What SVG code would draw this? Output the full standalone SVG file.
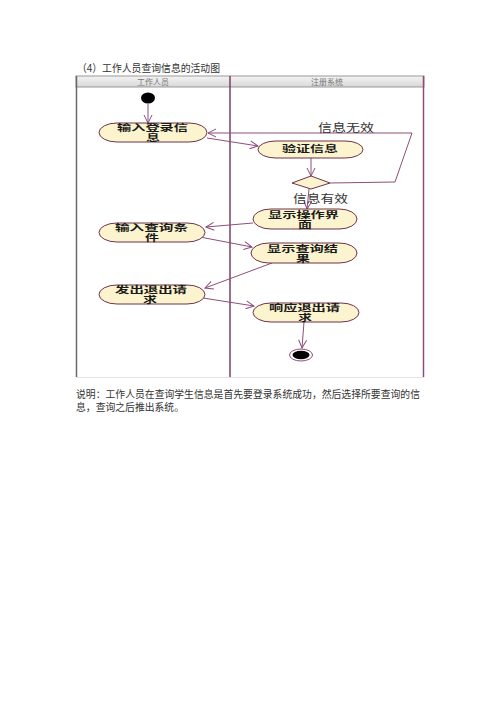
<svg xmlns="http://www.w3.org/2000/svg" width="500" height="706" viewBox="0 0 500 706">
<defs>
<style>
.t{font-family:"Liberation Sans","Noto Sans CJK SC",sans-serif;fill:#333}
.n{fill:#fbf4cf;stroke:#6e3348;stroke-width:1}
.nt{font-family:"Liberation Sans","Noto Sans CJK SC",sans-serif;font-size:9px;fill:#1a1a1a;font-weight:bold}
.c{fill:none;stroke:#8c4f7c;stroke-width:1}
.h{font-family:"Liberation Sans","Noto Sans CJK SC",sans-serif;font-size:8px;fill:#777}
</style>
<marker id="a" markerWidth="10" markerHeight="10" refX="9" refY="5" orient="auto" markerUnits="userSpaceOnUse">
<path d="M1,1 L9,5 L1,9" fill="none" stroke="#8c4f7c" stroke-width="1"/>
</marker>
<linearGradient id="hg" x1="0" y1="0" x2="0" y2="1">
<stop offset="0" stop-color="#f4f4f4"/><stop offset="1" stop-color="#d8d8d8"/>
</linearGradient>
</defs>
<rect width="500" height="706" fill="#fff"/>
<text class="t" x="77" y="72" font-size="10.5" textLength="143" lengthAdjust="spacingAndGlyphs">（4）工作人员查询信息的活动图</text>
<g id="frame">
<rect x="76" y="76" width="348" height="11" fill="url(#hg)" stroke="#999" stroke-width="1"/>
<text class="h" x="153" y="84.5" text-anchor="middle">工作人员</text>
<text class="h" x="327" y="84.5" text-anchor="middle">注册系统</text>
<line x1="76.5" y1="76" x2="76.5" y2="377" stroke="#6a6a6a" stroke-width="1.5"/>
<line x1="230" y1="76" x2="230" y2="377" stroke="#7a3f62" stroke-width="1.5"/>
<line x1="423.5" y1="76" x2="423.5" y2="377" stroke="#8a4f78" stroke-width="1.5"/>
<line x1="76" y1="377.5" x2="424" y2="377.5" stroke="#e2e2e2" stroke-width="1"/>
</g>
<g id="connectors">
<line class="c" x1="148" y1="104" x2="148" y2="123" marker-end="url(#a)"/>
<line class="c" x1="207" y1="138" x2="258" y2="146" marker-end="url(#a)"/>
<line class="c" x1="311" y1="157" x2="311" y2="176" marker-end="url(#a)"/>
<polyline class="c" points="330,183 395,182 412,133 208,133" marker-end="url(#a)"/>
<line class="c" x1="309" y1="189" x2="307" y2="209" marker-end="url(#a)"/>
<line class="c" x1="253" y1="223" x2="206" y2="227" marker-end="url(#a)"/>
<line class="c" x1="200" y1="237" x2="252" y2="247" marker-end="url(#a)"/>
<line class="c" x1="272" y1="263" x2="205" y2="288" marker-end="url(#a)"/>
<line class="c" x1="203" y1="298" x2="254" y2="306" marker-end="url(#a)"/>
<line class="c" x1="304" y1="322" x2="302" y2="348" marker-end="url(#a)"/>
<text class="t" x="318" y="132" font-size="11" textLength="56" lengthAdjust="spacingAndGlyphs">信息无效</text>
<text class="t" x="293" y="203" font-size="11" textLength="55" lengthAdjust="spacingAndGlyphs">信息有效</text>
</g>
<g id="start"><ellipse cx="148" cy="98" rx="7" ry="5.5" fill="#000"/></g>
<g id="n1">
<rect class="n" x="99" y="123" width="108" height="19" rx="18" ry="9.5"/>
<text class="nt" x="117" y="131" textLength="71" lengthAdjust="spacingAndGlyphs">输入登录信</text>
<text class="nt" x="146" y="141" textLength="14" lengthAdjust="spacingAndGlyphs">息</text>
</g>
<g id="n2">
<rect class="n" x="258" y="141" width="105" height="17" rx="18" ry="8.5"/>
<text class="nt" x="282" y="152" textLength="56" lengthAdjust="spacingAndGlyphs">验证信息</text>
</g>
<g id="decision"><polygon points="292,183 311,176 330,183 311,189" fill="#fbf4cf" stroke="#6e3348" stroke-width="1"/></g>
<g id="n3">
<rect class="n" x="253" y="209" width="104" height="20" rx="18" ry="10"/>
<text class="nt" x="268" y="218" textLength="71" lengthAdjust="spacingAndGlyphs">显示操作界</text>
<text class="nt" x="298" y="228" textLength="14" lengthAdjust="spacingAndGlyphs">面</text>
</g>
<g id="n4">
<rect class="n" x="99" y="223" width="106" height="19" rx="18" ry="9.5"/>
<text class="nt" x="115" y="231" textLength="73" lengthAdjust="spacingAndGlyphs">输入查询条</text>
<text class="nt" x="145" y="241" textLength="14" lengthAdjust="spacingAndGlyphs">件</text>
</g>
<g id="n5">
<rect class="n" x="251" y="243" width="106" height="20" rx="18" ry="10"/>
<text class="nt" x="267" y="252" textLength="71" lengthAdjust="spacingAndGlyphs">显示查询结</text>
<text class="nt" x="296" y="262" textLength="14" lengthAdjust="spacingAndGlyphs">果</text>
</g>
<g id="n6">
<rect class="n" x="99" y="285" width="106" height="19" rx="18" ry="9.5"/>
<text class="nt" x="115" y="293" textLength="72" lengthAdjust="spacingAndGlyphs">发出退出请</text>
<text class="nt" x="143" y="303" textLength="14" lengthAdjust="spacingAndGlyphs">求</text>
</g>
<g id="n7">
<rect class="n" x="253" y="303" width="106" height="19" rx="18" ry="9.5"/>
<text class="nt" x="269" y="311" textLength="71" lengthAdjust="spacingAndGlyphs">响应退出请</text>
<text class="nt" x="298" y="321" textLength="14" lengthAdjust="spacingAndGlyphs">求</text>
</g>
<g id="end">
<ellipse cx="301" cy="355" rx="11.5" ry="6" fill="#fff" stroke="#8c4f7c" stroke-width="1"/>
<ellipse cx="301" cy="355" rx="8.5" ry="4.2" fill="#000"/>
</g>
<text class="t" x="76" y="398" font-size="10" textLength="344" lengthAdjust="spacingAndGlyphs">说明：工作人员在查询学生信息是首先要登录系统成功，然后选择所要查询的信</text>
<text class="t" x="76" y="411" font-size="10" textLength="108" lengthAdjust="spacingAndGlyphs">息，查询之后推出系统。</text>
</svg>
